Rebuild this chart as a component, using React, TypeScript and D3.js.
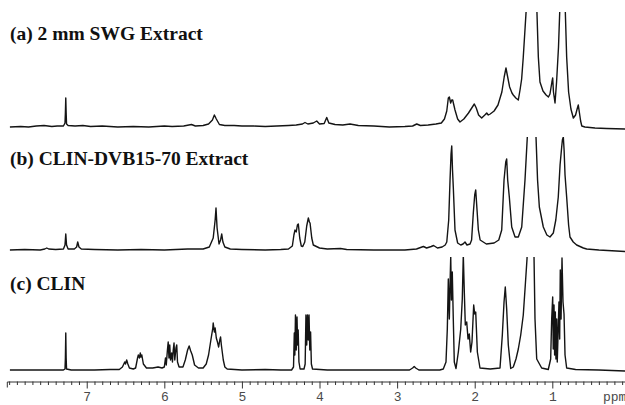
import { useEffect, useRef } from 'react';
import * as d3 from 'd3';

// [ppm, intensity] vertices (intensity ~ px above baseline)
const specA: [number, number][] = [
  [7.99, 0], [7.85, 0.5], [7.75, 0], [7.65, 1], [7.55, 1.5], [7.45, 0.5], [7.38, 1], [7.3, 1],
  [7.28, 4], [7.275, 14], [7.27, 29], [7.265, 14], [7.26, 3], [7.24, 1.5], [7.15, 1], [7.05, 1.5],
  [6.95, 0.5], [6.8, 1], [6.6, 0], [6.4, 0.5], [6.2, 0], [6.0, 1], [5.9, 0.5], [5.75, 1],
  [5.65, 2.5], [5.6, 1], [5.5, 1.5], [5.43, 3], [5.38, 7], [5.355, 12], [5.33, 8], [5.29, 2.5],
  [5.22, 1.5], [5.1, 1.5], [5.0, 1], [4.85, 1], [4.7, 0.5], [4.55, 1], [4.4, 1.5], [4.3, 2],
  [4.22, 3], [4.187, 4.5], [4.15, 3], [4.08, 4], [4.036, 6], [4.0, 3], [3.94, 3.5], [3.907, 9.5],
  [3.88, 4], [3.8, 2.5], [3.7, 2], [3.607, 3], [3.5, 1.5], [3.3, 1], [3.1, 0], [2.9, 0.5],
  [2.8, 1], [2.747, 3], [2.7, 1.5], [2.6, 2], [2.5, 3], [2.43, 4], [2.39, 8], [2.36, 16],
  [2.34, 29], [2.327, 30], [2.31, 24], [2.296, 27], [2.284, 27], [2.254, 17], [2.22, 8], [2.19, 5],
  [2.14, 8], [2.08, 14], [2.03, 20], [2.005, 23], [1.98, 19], [1.95, 12], [1.91, 9], [1.87, 12],
  [1.845, 14], [1.825, 12], [1.8, 13], [1.75, 16], [1.7, 22], [1.65, 35], [1.62, 50], [1.597, 59],
  [1.58, 52], [1.55, 40], [1.52, 34], [1.503, 32], [1.47, 29], [1.438, 27], [1.416, 37], [1.395, 48],
  [1.374, 70], [1.35, 100], [1.33, 125], [1.3, 190], [1.265, 230], [1.23, 190], [1.2, 120], [1.18, 70],
  [1.159, 45], [1.12, 36], [1.08, 32], [1.05, 30], [1.03, 33], [1.005, 45], [0.995, 49], [0.985, 35],
  [0.965, 24], [0.945, 45], [0.92, 80], [0.9, 125], [0.87, 220], [0.836, 125], [0.815, 70], [0.79, 35],
  [0.76, 18], [0.729, 9], [0.7, 12], [0.68, 18], [0.665, 22], [0.65, 14], [0.635, 6], [0.62, 1],
  [0.58, 0], [0.45, -1], [0.3, -1.5], [0.06, -2],
];

const specB: [number, number][] = [
  [7.99, 0], [7.8, 0.5], [7.6, 0], [7.54, 1], [7.515, 2], [7.49, 1], [7.4, 0.5], [7.3, 1],
  [7.28, 5], [7.27, 16], [7.26, 5], [7.24, 1], [7.16, 1], [7.13, 3], [7.116, 8], [7.1, 3],
  [7.07, 1], [6.9, 0.5], [6.6, 0], [6.3, 0.5], [6.0, 0], [5.7, 1], [5.5, 1], [5.42, 3],
  [5.37, 12], [5.345, 30], [5.334, 42], [5.32, 22], [5.295, 6], [5.275, 10], [5.26, 16], [5.245, 8],
  [5.22, 3], [5.15, 1], [5.0, 0.5], [4.7, 0], [4.5, 0.5], [4.4, 1], [4.35, 4], [4.33, 15],
  [4.316, 20], [4.3, 18], [4.285, 25], [4.273, 26], [4.255, 12], [4.235, 4], [4.216, 3.5], [4.19, 8],
  [4.165, 24], [4.144, 32], [4.13, 28], [4.122, 27], [4.1, 12], [4.08, 5], [4.0, 2], [3.9, 1],
  [3.73, 1.5], [3.65, 0.5], [3.3, 0], [2.9, 0], [2.75, 1], [2.68, 3], [2.66, 3.5], [2.62, 2],
  [2.56, 3.5], [2.53, 4.5], [2.48, 2], [2.42, 3], [2.38, 5], [2.36, 8], [2.335, 30], [2.318, 70],
  [2.305, 96], [2.296, 104], [2.286, 80], [2.276, 63], [2.254, 20], [2.22, 7], [2.18, 5], [2.15, 6],
  [2.125, 8], [2.1, 5], [2.06, 6], [2.04, 10], [2.018, 37], [2.0, 55], [1.987, 60], [1.97, 40],
  [1.953, 20], [1.93, 10], [1.85, 6], [1.75, 7], [1.69, 10], [1.652, 20], [1.622, 70], [1.6, 88],
  [1.588, 91], [1.575, 70], [1.554, 53], [1.523, 23], [1.48, 13], [1.438, 13], [1.394, 23], [1.352, 70],
  [1.322, 113], [1.3, 180], [1.27, 220], [1.24, 180], [1.21, 113], [1.19, 70], [1.167, 43], [1.116, 23],
  [1.07, 15], [1.03, 13], [0.987, 17], [0.955, 30], [0.923, 53], [0.9, 85], [0.879, 103], [0.87, 110],
  [0.858, 113], [0.848, 100], [0.836, 75], [0.815, 53], [0.79, 25], [0.772, 13], [0.73, 8], [0.686, 5],
  [0.6, 2], [0.557, 1], [0.4, 0], [0.06, -1.5],
];

const specC: [number, number][] = [
  [7.99, 0], [7.6, 0], [7.3, 0], [7.28, 1], [7.275, 12], [7.27, 37], [7.265, 12], [7.26, 1],
  [7.2, 0], [6.9, 0], [6.7, 0.5], [6.58, 0.5], [6.54, 3], [6.51, 8], [6.5, 6], [6.485, 10],
  [6.47, 6], [6.45, 2], [6.4, 1], [6.37, 2], [6.345, 12], [6.335, 15], [6.32, 12], [6.31, 17],
  [6.3, 13], [6.29, 15], [6.27, 6], [6.23, 2], [6.15, 2], [6.08, 3], [6.03, 2], [6.0, 3],
  [5.985, 12], [5.975, 5], [5.96, 20], [5.95, 28], [5.94, 12], [5.93, 25], [5.92, 10], [5.905, 17],
  [5.895, 8], [5.885, 20], [5.875, 27], [5.865, 10], [5.85, 22], [5.84, 25], [5.83, 8], [5.81, 3],
  [5.76, 3], [5.73, 10], [5.7, 20], [5.68, 24], [5.66, 19], [5.64, 15], [5.61, 5], [5.56, 2],
  [5.5, 2], [5.46, 6], [5.43, 15], [5.4, 30], [5.375, 42], [5.37, 47], [5.355, 38], [5.345, 42],
  [5.33, 32], [5.315, 28], [5.3, 23], [5.285, 30], [5.275, 33], [5.265, 25], [5.24, 10], [5.22, 3],
  [5.19, 1], [5.0, 0], [4.7, 0.5], [4.5, 0], [4.36, 0], [4.335, 3], [4.325, 37], [4.318, 15],
  [4.31, 55], [4.3, 20], [4.29, 53], [4.282, 25], [4.275, 40], [4.265, 8], [4.25, 1], [4.2, 1],
  [4.185, 6], [4.175, 55], [4.165, 25], [4.155, 55], [4.145, 30], [4.135, 55], [4.125, 20], [4.115, 38],
  [4.105, 6], [4.09, 1], [3.9, 0], [3.5, 0], [3.0, 0], [2.84, 0], [2.8, 2], [2.78, 3.5],
  [2.76, 2], [2.72, 0], [2.45, 0], [2.405, 1], [2.37, 8], [2.353, 41], [2.34, 91], [2.327, 51],
  [2.315, 95], [2.309, 113], [2.3, 70], [2.289, 98], [2.276, 51], [2.263, 8], [2.241, 1.5], [2.211, 18],
  [2.18, 41], [2.16, 71], [2.147, 115], [2.134, 78], [2.121, 45], [2.103, 48], [2.086, 31], [2.07, 36],
  [2.052, 18], [2.035, 28], [2.013, 65], [2.0, 56], [1.987, 58], [1.966, 18], [1.932, 2], [1.8, 1],
  [1.674, 2], [1.644, 35], [1.622, 68], [1.606, 83], [1.588, 61], [1.567, 25], [1.536, 1.5], [1.503, 3],
  [1.468, 11], [1.438, 21], [1.407, 35], [1.374, 55], [1.348, 85], [1.326, 111], [1.3, 160], [1.287, 200],
  [1.265, 160], [1.236, 115], [1.223, 51], [1.201, 11], [1.137, 2], [1.052, 0.5], [1.021, 11], [1.008, 51],
  [0.995, 73], [0.988, 21], [0.978, 65], [0.97, 15], [0.961, 58], [0.953, 11], [0.943, 51], [0.936, 8],
  [0.925, 38], [0.914, 68], [0.905, 31], [0.897, 100], [0.887, 51], [0.875, 112], [0.862, 68], [0.849, 56],
  [0.836, 15], [0.815, 2], [0.7, 0.5], [0.4, 0], [0.06, -1],
];

const titles = ['(a) 2 mm SWG Extract', '(b) CLIN-DVB15-70 Extract', '(c) CLIN'];
const spectra = [specA, specB, specC];
const majorTicks = [7, 6, 5, 4, 3, 2, 1];
const axisUnit = 'ppm';

// layout: baseline of each trace, top clip, title baseline
const panels = [
  { base: 127, top: 12, titleY: 40 },
  { base: 250, top: 137, titleY: 164.5 },
  { base: 370, top: 257, titleY: 290 },
];

const W = 625;
const H = 405;

export default function App() {
  const svgRef = useRef<SVGSVGElement>(null);

  useEffect(() => {
    document.body.style.margin = '0';
    const svg = d3.select(svgRef.current);
    svg.selectAll('*').remove();

    const x = d3.scaleLinear().domain([8.03, 0]).range([6.8, 629.9]);
    const axisY = 381.5;

    const defs = svg.append('defs');

    panels.forEach((p, i) => {
      const y = d3.scaleLinear().domain([0, 100]).range([p.base, p.base - 100]);
      const id = `clip-${i}`;
      defs.append('clipPath').attr('id', id)
        .append('rect').attr('x', 0).attr('y', p.top).attr('width', W).attr('height', p.base + 20 - p.top);

      const line = d3.line<[number, number]>()
        .x((d) => x(d[0]))
        .y((d) => y(d[1]));

      svg.append('path')
        .datum(spectra[i])
        .attr('d', line)
        .attr('clip-path', `url(#${id})`)
        .attr('fill', 'none')
        .attr('stroke', '#141414')
        .attr('stroke-width', 1.4)
        .attr('stroke-linejoin', 'round');

      svg.append('text')
        .attr('x', 10)
        .attr('y', p.titleY)
        .attr('font-family', '"Liberation Serif", "Times New Roman", serif')
        .attr('font-weight', 'bold')
        .attr('font-size', 19.5)
        .attr('fill', '#111')
        .text(titles[i]);
    });

    // axis: minor ticks every 0.1 ppm, labelled majors
    const minorTicks = d3.range(1, 81).map((k) => k / 10).filter((v) => !majorTicks.includes(v));

    const minorG = svg.append('g')
      .attr('transform', `translate(0,${axisY})`)
      .call(d3.axisBottom(x).tickValues(minorTicks).tickSize(3.5).tickSizeOuter(6).tickFormat(() => ''));
    minorG.selectAll('line').attr('stroke', '#333');
    minorG.select('.domain').attr('stroke', '#333');

    const majorG = svg.append('g')
      .attr('transform', `translate(0,${axisY})`)
      .call(d3.axisBottom(x).tickValues(majorTicks).tickSize(7).tickPadding(3).tickFormat(d3.format('d')));
    majorG.select('.domain').remove();
    majorG.selectAll('line').attr('stroke', '#333');
    majorG.selectAll('text')
      .attr('font-family', '"Liberation Mono", "Courier New", monospace')
      .attr('font-size', 13)
      .attr('fill', '#4a4a4a');

    svg.append('text')
      .attr('x', 603)
      .attr('y', axisY + 19.5)
      .attr('font-family', '"Liberation Mono", "Courier New", monospace')
      .attr('font-size', 13)
      .attr('fill', '#4a4a4a')
      .text(axisUnit);
  }, []);

  return <svg ref={svgRef} width={W} height={H} style={{ display: 'block', background: '#fff' }} />;
}
